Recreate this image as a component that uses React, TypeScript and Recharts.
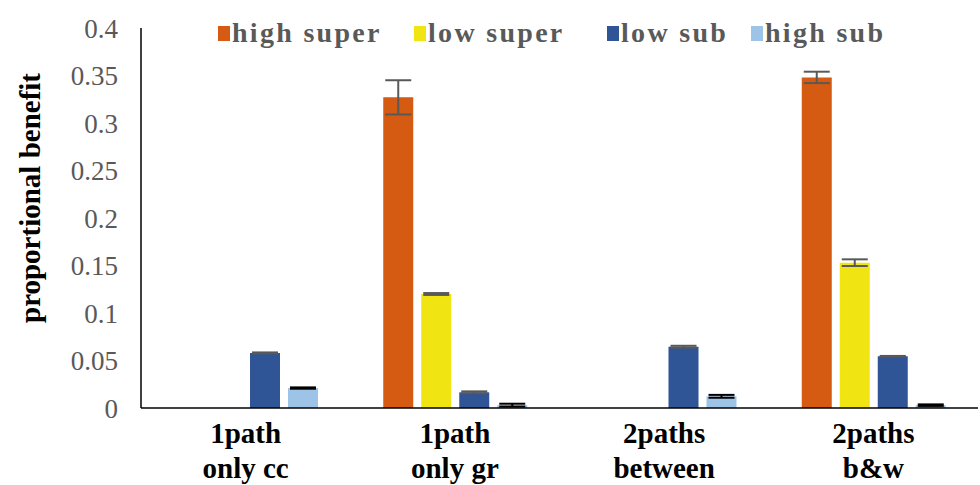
import React from 'react';
import {
  BarChart,
  Bar,
  XAxis,
  YAxis,
  ErrorBar,
} from 'recharts';

const categories = ['1path\nonly cc', '1path\nonly gr', '2paths\nbetween', '2paths\nb&w'];
const highSuper = [0, 0.327, 0, 0.348];
const highSuperErr = [0, 0.018, 0, 0.006];
const lowSuper = [0, 0.12, 0, 0.153];
const lowSuperErr = [0, 0.001, 0, 0.0035];
const lowSub = [0.058, 0.0165, 0.0645, 0.0545];
const lowSubErr = [0.0005, 0.001, 0.001, 0.0003];
const highSub = [0.021, 0.003, 0.0123, 0.003];
const highSubErr = [0.0007, 0.0015, 0.0015, 0.0008];
const yTicks = [0, 0.05, 0.1, 0.15, 0.2, 0.25, 0.3, 0.35, 0.4];

const series = [
  { key: 'highSuper', name: 'high super', color: '#D55A12', err: '#595959' },
  { key: 'lowSuper', name: 'low super', color: '#F0E413', err: '#595959' },
  { key: 'lowSub', name: 'low sub', color: '#2F5597', err: '#595959' },
  { key: 'highSub', name: 'high sub', color: '#9DC3E6', err: '#000000' },
];

const data = categories.map((name, i) => ({
  name,
  highSuper: highSuper[i],
  highSuperErr: highSuperErr[i],
  lowSuper: lowSuper[i],
  lowSuperErr: lowSuperErr[i],
  lowSub: lowSub[i],
  lowSubErr: lowSubErr[i],
  highSub: highSub[i],
  highSubErr: highSubErr[i],
}));

const serif = '"Liberation Serif", "Times New Roman", serif';

const CategoryTick = (props: any) => {
  const { x, y, payload } = props;
  const lines = String(payload.value).split('\n');
  return (
    <g transform={`translate(${x},${y})`}>
      {lines.map((l, i) => (
        <text
          key={i}
          x={0}
          y={27 + i * 35}
          textAnchor="middle"
          style={{ fontFamily: serif, fontWeight: 'bold', fontSize: 29 }}
          fill="#000"
        >
          {l}
        </text>
      ))}
    </g>
  );
};

const YLabel = (props: any) => {
  const { viewBox } = props;
  const x = 30;
  const y = viewBox.y + viewBox.height / 2 - 20;
  return (
    <text
      x={x}
      y={y}
      transform={`rotate(-90, ${x}, ${y})`}
      textAnchor="middle"
      dominantBaseline="central"
      style={{ fontFamily: serif, fontWeight: 'bold', fontSize: 29 }}
      fill="#000"
    >
      proportional benefit
    </text>
  );
};

// legend drawn as an overlay so it doesn't push the plot down
const legendLefts = [218, 414, 607, 751];

const ChartLegend = () => (
  <div style={{ position: 'absolute', left: 0, top: 17, width: 980, height: 34, fontFamily: serif }}>
    {series.map((s, i) => (
      <div
        key={s.key}
        style={{
          position: 'absolute',
          left: legendLefts[i],
          top: 0,
          display: 'flex',
          alignItems: 'center',
          whiteSpace: 'nowrap',
        }}
      >
        <span style={{ width: 12, height: 15, background: s.color, display: 'inline-block', marginRight: 2 }} />
        <span style={{ fontSize: 28, fontWeight: 'bold', color: '#595959', letterSpacing: 2.3 }}>{s.name}</span>
      </div>
    ))}
  </div>
);

export default function App() {
  return (
    <div style={{ position: 'absolute', left: 0, top: 0, width: 980, height: 485, background: '#fff' }}>
      <BarChart
        width={980}
        height={485}
        data={data}
        margin={{ top: 28, right: 2, bottom: 47, left: 0 }}
        barSize={30}
        barGap={8}
      >
        <XAxis
          dataKey="name"
          height={30}
          axisLine={{ stroke: '#000', strokeWidth: 1.5 }}
          tickLine={false}
          tick={<CategoryTick />}
          interval={0}
        />
        <YAxis
          width={141}
          domain={[0, 0.4]}
          ticks={yTicks}
          axisLine={{ stroke: '#000', strokeWidth: 1.5 }}
          tickLine={false}
          tickSize={0}
          tickMargin={23}
          tick={{ fill: '#595959', style: { fontFamily: serif, fontSize: 27 } }}
          label={<YLabel />}
        />
        {series.map((s) => (
          <Bar key={s.key} dataKey={s.key} name={s.name} fill={s.color} isAnimationActive={false}>
            <ErrorBar dataKey={`${s.key}Err`} width={13} stroke={s.err} strokeWidth={2} direction="y" />
          </Bar>
        ))}
      </BarChart>
      <ChartLegend />
    </div>
  );
}
